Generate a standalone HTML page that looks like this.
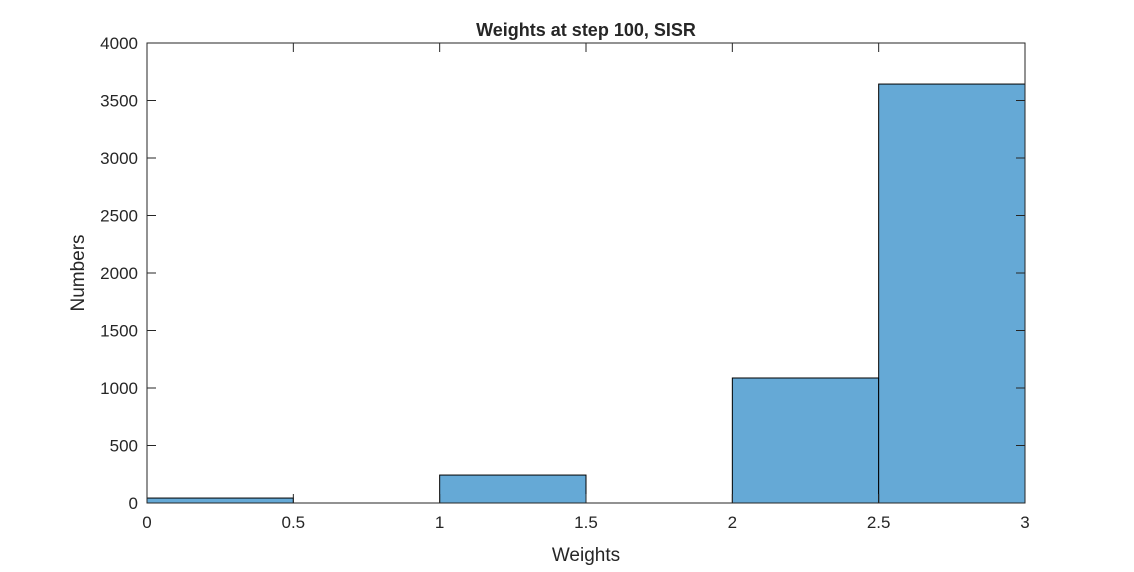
<!DOCTYPE html>
<html><head><meta charset="utf-8"><style>
body{margin:0;background:#fff;}
svg text{font-family:"Liberation Sans",Arial,sans-serif;fill:#262626;}
</style></head><body>
<svg id="chart" width="1134" height="567" viewBox="0 0 1134 567">
<rect width="1134" height="567" fill="#fff"/>
<text x="586" y="36" font-size="18" font-weight="bold" text-anchor="middle" fill="#000">Weights at step 100, SISR</text>
<g id="bars"></g>
<g id="axes"></g>
<text x="586" y="561" font-size="19" text-anchor="middle">Weights</text>
<text transform="translate(84,273) rotate(-90)" font-size="19" text-anchor="middle">Numbers</text>
</svg>
<script>
const binEdges=[0,0.5,1,1.5,2,2.5,3];
const counts=[43,0,243,0,1087,3643];
const xTicks=[0,0.5,1,1.5,2,2.5,3];
const xTickLabels=["0","0.5","1","1.5","2","2.5","3"];
const yTicks=[0,500,1000,1500,2000,2500,3000,3500,4000];
const yTickLabels=["0","500","1000","1500","2000","2500","3000","3500","4000"];
const L=147,R=1025,T=43,B=503;
const xs=v=>L+(v-0)/(3-0)*(R-L);
const ys=v=>B-(v/4000)*(B-T);
const NS="http://www.w3.org/2000/svg";
const bars=document.getElementById('bars'),axes=document.getElementById('axes');
function mk(tag,attrs,parent){const e=document.createElementNS(NS,tag);for(const k in attrs)e.setAttribute(k,attrs[k]);parent.appendChild(e);return e;}
counts.forEach((c,i)=>{
  if(c<=0)return;
  const x0=xs(binEdges[i]),x1=xs(binEdges[i+1]);
  const r=mk('rect',{x:x0,y:ys(c),width:x1-x0,height:B-ys(c),fill:'#65a9d6',stroke:'#000','stroke-width':1},bars);
  
  
});
const frame=mk('rect',{x:L,y:T,width:R-L,height:B-T,fill:'none',stroke:'#262626','stroke-width':1},axes);


xTicks.forEach((v,i)=>{
  const x=xs(v);
  mk('line',{x1:x,x2:x,y1:B,y2:B-9,stroke:'#262626'},axes);
  mk('line',{x1:x,x2:x,y1:T,y2:T+9,stroke:'#262626'},axes);
  const t=mk('text',{x:x,y:B+25,'font-size':17,'text-anchor':'middle'},axes);
  t.textContent=xTickLabels[i];
  
  
});
yTicks.forEach((v,i)=>{
  const y=ys(v);
  mk('line',{x1:L,x2:L+9,y1:y,y2:y,stroke:'#262626'},axes);
  mk('line',{x1:R,x2:R-9,y1:y,y2:y,stroke:'#262626'},axes);
  const t=mk('text',{x:L-9,y:y+6,'font-size':17,'text-anchor':'end'},axes);
  t.textContent=yTickLabels[i];
  
  
});
</script>
</body></html>
